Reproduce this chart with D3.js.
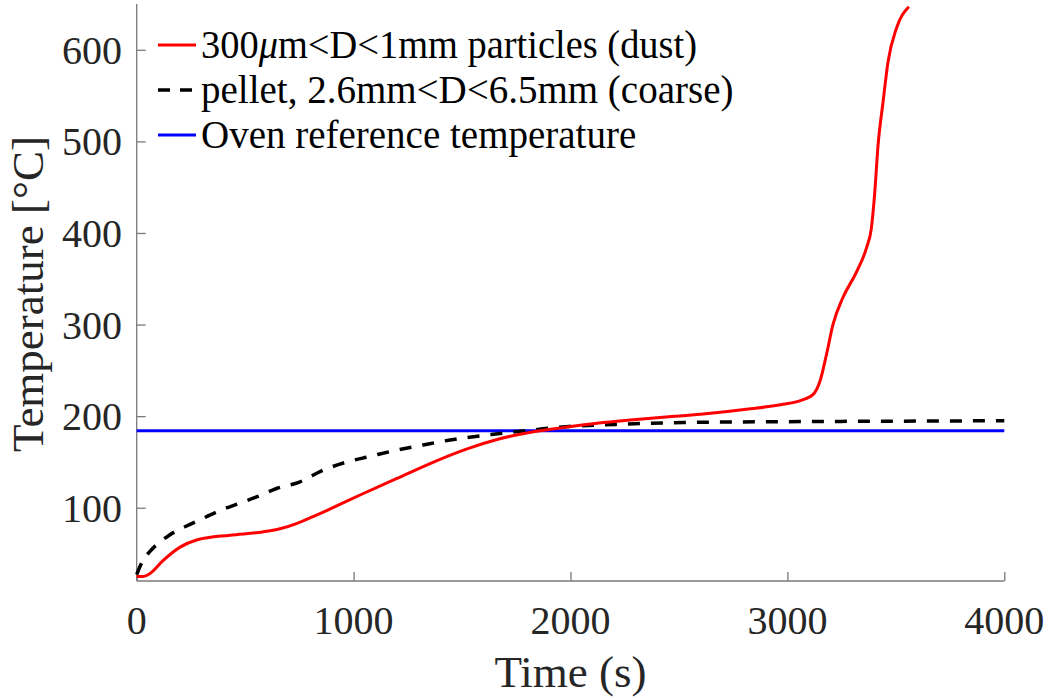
<!DOCTYPE html>
<html>
<head>
<meta charset="utf-8">
<script src="https://cdn.jsdelivr.net/npm/d3@7/dist/d3.min.js"></script>
<style>
  html, body { margin: 0; padding: 0; background: #fff; }
  svg { display: block; }
  svg text { font-family: "Liberation Serif", "Times New Roman", serif; }
</style>
</head>
<body>
<svg id="chart" width="1053" height="699"></svg>
<script>
// Data
const dustTime = [0, 30, 60, 120, 200, 280, 430, 580, 660, 740, 810, 890, 1040, 1200, 1350, 1520, 1670, 1830, 1980, 2130, 2290, 2440, 2600, 2830, 2980, 3060, 3120, 3150, 3180, 3210, 3255, 3320, 3365, 3387, 3402, 3418, 3441, 3464, 3502, 3560];
const dustTemp = [25, 25, 28, 42, 57, 65, 70, 73.5, 77, 83, 90, 98.5, 115, 132, 148, 164, 175, 183, 188, 192.5, 196, 199, 202, 208, 213, 217, 224, 238, 267, 300, 329, 358, 384, 405, 442, 496, 543, 587, 623, 647];

const pelletTime = [0, 30, 60, 150, 230, 320, 385, 475, 555, 645, 750, 860, 970, 1075, 1200, 1320, 1445, 1675, 1830, 1980, 2210, 2520, 3000, 3500, 4000];
const pelletTemp = [27, 43, 52, 70, 80, 90, 97, 105, 112, 121, 128, 141, 150, 156, 163, 168.5, 174, 181, 185, 188.5, 191, 193, 194, 194.5, 195];

const ovenTime = [0, 4000];
const ovenTemp = [184, 184];

const xTicks = [0, 1000, 2000, 3000, 4000];
const yTicks = [100, 200, 300, 400, 500, 600];

const legendLabels = ["300μm<D<1mm particles (dust)", "pellet, 2.6mm<D<6.5mm (coarse)", "Oven reference temperature"];
const seriesColors = ["#ff0000", "#000000", "#0000ff"];

const svg = d3.select("#chart");
const x = d3.scaleLinear().domain([0, 4000]).range([136.7, 1004.3]);
const y = d3.scaleLinear().domain([20, 650]).range([581, 4]);

const axisColor = "#7a7a7a";
const textColor = "#262626";

// Axes
const xAxis = svg.append("g").attr("transform", `translate(0,${y(20)})`)
  .call(d3.axisBottom(x).tickValues(xTicks).tickSize(-9).tickPadding(0).tickFormat(() => ""));
const yAxis = svg.append("g").attr("transform", `translate(${x(0)},0)`)
  .call(d3.axisLeft(y).tickValues(yTicks).tickSize(-9).tickPadding(0).tickFormat(() => ""));
[xAxis, yAxis].forEach(g => {
  g.select(".domain").attr("stroke", axisColor).attr("stroke-width", 1.3);
  g.selectAll(".tick line").attr("stroke", axisColor).attr("stroke-width", 1.3);
});
xAxis.select(".domain").attr("d", `M${x(0)},0H${x(4000)}`);
yAxis.select(".domain").attr("d", `M0,${y(20)}V${y(650)}`);

// Tick labels
svg.append("g").selectAll("text").data(xTicks).join("text")
  .attr("x", d => x(d)).attr("y", 634)
  .attr("text-anchor", "middle").attr("font-size", 40).attr("fill", textColor)
  .text(d => d);
svg.append("g").selectAll("text").data(yTicks).join("text")
  .attr("x", 122).attr("y", d => y(d)).attr("dy", "0.35em")
  .attr("text-anchor", "end").attr("font-size", 40).attr("fill", textColor)
  .text(d => d);

// Axis labels
svg.append("text").attr("x", (x(0) + x(4000)) / 2).attr("y", 687)
  .attr("text-anchor", "middle").attr("font-size", 45).attr("fill", textColor)
  .text("Time (s)");
svg.append("text").attr("transform", `translate(43,${294}) rotate(-90)`)
  .attr("text-anchor", "middle").attr("font-size", 45).attr("fill", textColor)
  .text("Temperature [°C]");

// Lines
const line = d3.line().x(d => x(d[0])).y(d => y(d[1])).curve(d3.curveMonotoneX);
const zipData = (ts, vs) => ts.map((t, i) => [t, vs[i]]);

svg.append("path").datum(zipData(ovenTime, ovenTemp))
  .attr("d", line).attr("fill", "none").attr("stroke", seriesColors[2]).attr("stroke-width", 3);
svg.append("path").datum(zipData(pelletTime, pelletTemp))
  .attr("d", line).attr("fill", "none").attr("stroke", seriesColors[1]).attr("stroke-width", 3.5)
  .attr("stroke-dasharray", "12,11");
svg.append("path").datum(zipData(dustTime, dustTemp))
  .attr("d", line).attr("fill", "none").attr("stroke", seriesColors[0]).attr("stroke-width", 3);

// Legend
const legY = [45, 90, 135];
const lg = svg.append("g");
legendLabels.forEach((lab, i) => {
  const l = lg.append("line").attr("x1", 158).attr("x2", 196).attr("y1", legY[i]).attr("y2", legY[i])
    .attr("stroke", seriesColors[i]).attr("stroke-width", i === 1 ? 3.5 : 3);
  if (i === 1) l.attr("stroke-dasharray", "12,10");
  const t = lg.append("text").attr("x", 201).attr("y", legY[i] + 13).attr("font-size", 39).attr("fill", "#000");
  if (i === 0) {
    t.attr("textLength", 496).attr("lengthAdjust", "spacingAndGlyphs");
    t.append("tspan").text("300");
    t.append("tspan").attr("font-style", "italic").text("μ");
    t.append("tspan").text("m<D<1mm particles (dust)");
  } else {
    t.text(lab);
  }
});
</script>
</body>
</html>
